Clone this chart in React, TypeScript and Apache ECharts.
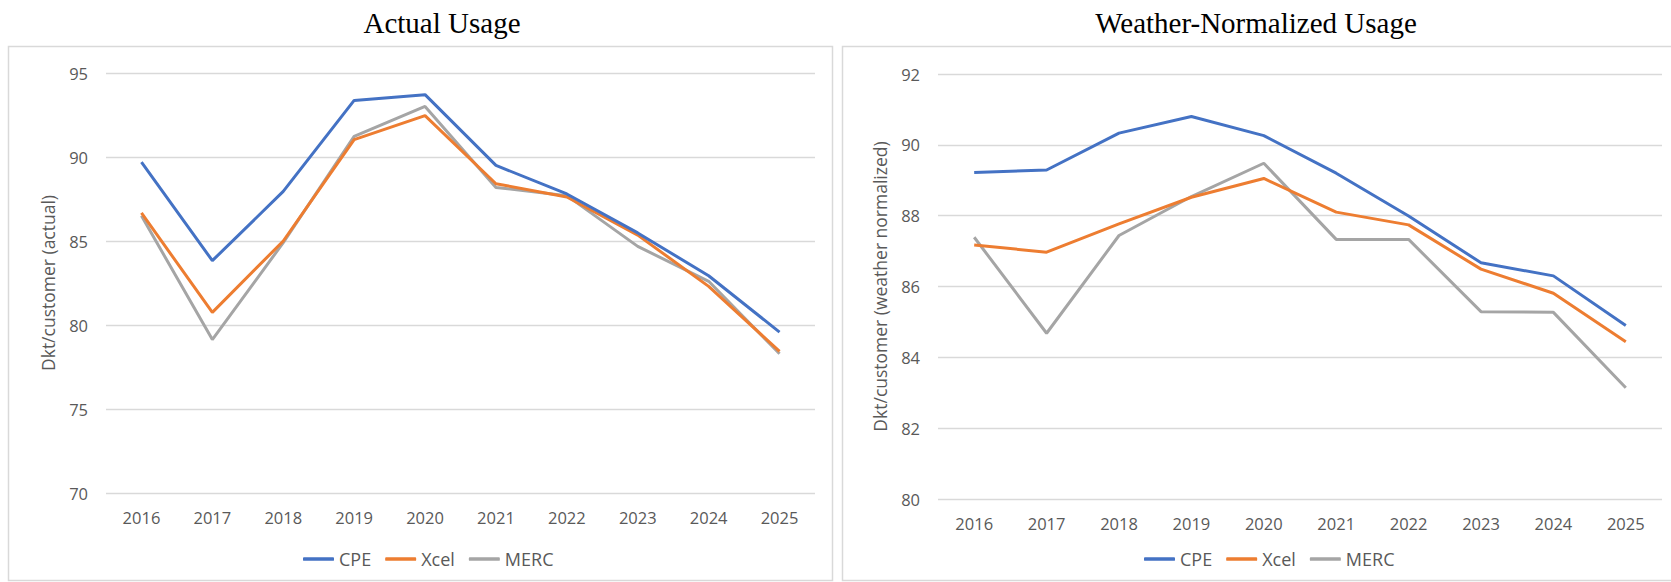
import React, { useEffect, useRef } from "react";
import * as echarts from "echarts";

const years = ["2016", "2017", "2018", "2019", "2020", "2021", "2022", "2023", "2024", "2025"];
const seriesNames = ["CPE", "Xcel", "MERC"];
const colors = ["#4472C4", "#ED7D31", "#A5A5A5"];

const actualCPE = [89.7, 83.83, 87.95, 93.37, 93.71, 89.5, 87.8, 85.48, 82.93, 79.58];
const actualXcel = [86.67, 80.75, 85.0, 91.03, 92.46, 88.41, 87.62, 85.35, 82.3, 78.43];
const actualMERC = [86.5, 79.13, 84.9, 91.23, 93.01, 88.19, 87.7, 84.68, 82.6, 78.29];

const normCPE = [89.22, 89.29, 90.33, 90.8, 90.26, 89.2, 87.99, 86.67, 86.3, 84.9];
const normXcel = [87.17, 86.97, 87.77, 88.52, 89.05, 88.1, 87.74, 86.49, 85.81, 84.44];
const normMERC = [87.39, 84.68, 87.44, 88.54, 89.48, 87.33, 87.33, 85.29, 85.27, 83.14];

const titles = ["Actual Usage", "Weather-Normalized Usage"];
const yNames = ["Dkt/customer (actual)", "Dkt/customer (weather normalized)"];

const FONT = '"Open Sans", "Liberation Sans", sans-serif';
const LABEL = "#595959";
const GRID = "#D9D9D9";

export default function App() {
  const ref = useRef<HTMLDivElement>(null);
  useEffect(() => {
    if (!ref.current) return;
    const chart = echarts.init(ref.current, undefined, { renderer: "svg" });
    const leftData = [actualCPE, actualXcel, actualMERC];
    const rightData = [normCPE, normXcel, normMERC];

    const mkX = (gridIndex: number, margin: number) => ({
      type: "category",
      gridIndex,
      data: years,
      boundaryGap: true,
      axisLine: { show: false },
      axisTick: { show: false },
      axisLabel: { color: LABEL, fontFamily: FONT, fontSize: 16.5, margin },
      splitLine: { show: false },
    });
    const mkY = (gridIndex: number, min: number, max: number, interval: number, name: string) => ({
      type: "value",
      gridIndex,
      min,
      max,
      interval,
      name,
      nameLocation: "middle",
      nameGap: 49,
      nameTextStyle: { color: LABEL, fontFamily: FONT, fontSize: 17.5 },
      axisLine: { show: false },
      axisTick: { show: false },
      axisLabel: { color: LABEL, fontFamily: FONT, fontSize: 16.5, margin: 18 },
      splitLine: { show: true, lineStyle: { color: GRID, width: 1.3 } },
    });

    const series: any[] = [];
    seriesNames.forEach((n, i) => {
      series.push({
        name: n,
        type: "line",
        xAxisIndex: 0,
        yAxisIndex: 0,
        data: leftData[i],
        symbol: "none",
        lineStyle: { color: colors[i], width: 3 },
        itemStyle: { color: colors[i] },
        z: 10 - i,
      });
    });
    seriesNames.forEach((n, i) => {
      series.push({
        name: n,
        type: "line",
        xAxisIndex: 1,
        yAxisIndex: 1,
        data: rightData[i],
        symbol: "none",
        lineStyle: { color: colors[i], width: 3 },
        itemStyle: { color: colors[i] },
        z: 10 - i,
      });
    });

    const legendCommon = {
      data: seriesNames,
      orient: "horizontal",
      icon: "roundRect",
      itemWidth: 31,
      itemHeight: 3.5,
      itemGap: 14,
      textStyle: { color: LABEL, fontFamily: FONT, fontSize: 18 },
      selectedMode: false,
    };

    chart.setOption({
      animation: false,
      backgroundColor: "#ffffff",
      title: [
        {
          text: titles[0],
          left: 437,
          top: 3,
          textAlign: "center",
          textStyle: { fontFamily: '"Liberation Serif", serif', fontSize: 29, fontWeight: "normal", color: "#000" },
        },
        {
          text: titles[1],
          left: 1251,
          top: 3,
          textAlign: "center",
          textStyle: { fontFamily: '"Liberation Serif", serif', fontSize: 29, fontWeight: "normal", color: "#000" },
        },
      ],
      graphic: [
        {
          type: "rect",
          shape: { x: 8.5, y: 46.5, width: 824, height: 534 },
          style: { fill: "none", stroke: "#D9D9D9", lineWidth: 1.5 },
          silent: true,
        },
        {
          type: "rect",
          shape: { x: 842.5, y: 46.5, width: 840, height: 534 },
          style: { fill: "none", stroke: "#D9D9D9", lineWidth: 1.5 },
          silent: true,
        },
      ],
      legend: [
        { ...legendCommon, left: 298, top: 545 },
        { ...legendCommon, left: 1139, top: 545 },
      ],
      grid: [
        { left: 106, top: 73, width: 709, height: 420 },
        { left: 938, top: 74, width: 724, height: 425 },
      ],
      xAxis: [mkX(0, 16), mkX(1, 16)],
      yAxis: [mkY(0, 70, 95, 5, yNames[0]), mkY(1, 80, 92, 2, yNames[1])],
      series,
    });
    return () => chart.dispose();
  }, []);
  return (
    <div
      ref={ref}
      style={{ position: "fixed", left: 0, top: 0, width: 1671, height: 582, background: "#fff" }}
    />
  );
}
